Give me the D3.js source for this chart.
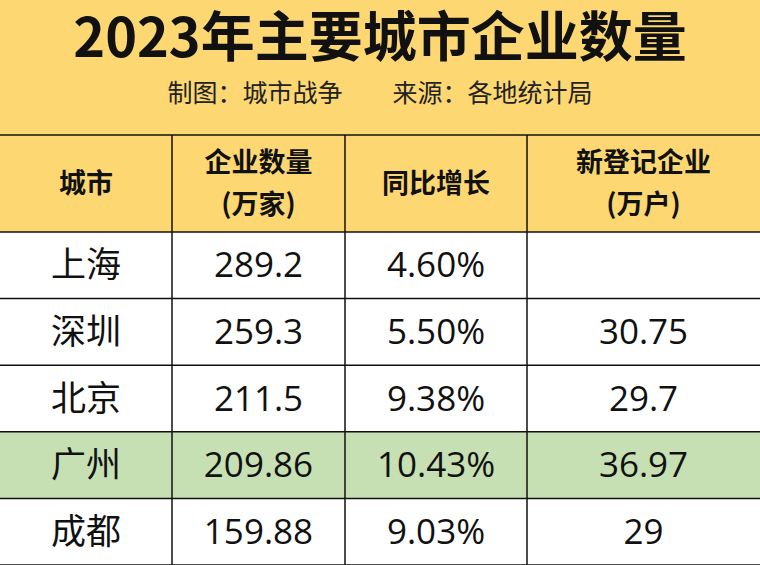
<!DOCTYPE html><html><head><meta charset="utf-8"><script src="https://cdn.jsdelivr.net/npm/d3@7"></script>
<style>body{margin:0;background:#fff}</style></head><body><svg id="c" width="760" height="565"></svg>
<script>
const title="2023年主要城市企业数量";
const subtitle="制图：城市战争　　来源：各地统计局";
const headers=[["城市"],["企业数量","(万家)"],["同比增长"],["新登记企业","(万户)"]];
const cities=["上海","深圳","北京","广州","成都"];
const counts=["289.2","259.3","211.5","209.86","159.88"];
const growth=["4.60%","5.50%","9.38%","10.43%","9.03%"];
const newReg=["","30.75","29.7","36.97","29"];
const highlight="广州";
const svg=d3.select("#c"),F="'Noto Sans CJK SC',sans-serif";
const colEdges=[0,172,345,527,760];
const y=d3.scaleBand().domain(cities).range([232,565]);
svg.append("rect").attr("width",760).attr("height",232).attr("fill","#FDD872");
svg.append("text").attr("x",380).attr("y",57).attr("text-anchor","middle").attr("font-family",F).attr("font-weight",700).attr("font-size",54).attr("fill","#111").text(title);
svg.append("text").attr("x",380).attr("y",102).attr("text-anchor","middle").attr("font-family",F).attr("font-size",25).attr("fill","#222").attr("xml:space","preserve").text(subtitle);
cities.forEach(c=>{if(c===highlight)svg.append("rect").attr("x",0).attr("y",y(c)).attr("width",760).attr("height",y.bandwidth()).attr("fill","#C6E0B4");});
const g=svg.append("g").attr("stroke","#111").attr("stroke-width",1.5);
[135,232].concat(cities.map(c=>y(c)+y.bandwidth())).forEach(v=>g.append("line").attr("x1",0).attr("x2",760).attr("y1",v).attr("y2",v));
colEdges.slice(1,-1).forEach(v=>g.append("line").attr("x1",v).attr("x2",v).attr("y1",135).attr("y2",565));
headers.forEach((h,i)=>{const cx=(colEdges[i]+colEdges[i+1])/2;
 h.forEach((t,j)=>svg.append("text").attr("x",cx).attr("y",h.length==1?193:172+j*42).attr("text-anchor","middle").attr("font-family",F).attr("font-weight",700).attr("font-size",27).attr("fill","#111").text(t));});
const cols=[cities,counts,growth,newReg];
cols.forEach((arr,i)=>{const cx=(colEdges[i]+colEdges[i+1])/2;
 arr.forEach((t,k)=>svg.append("text").attr("x",cx).attr("y",y(cities[k])+y.bandwidth()/2+12).attr("text-anchor","middle").attr("font-family",i==0?F:"'Open Sans',sans-serif").attr("font-size",i==0?35:35).attr("fill","#111").text(t));});
</script></body></html>
